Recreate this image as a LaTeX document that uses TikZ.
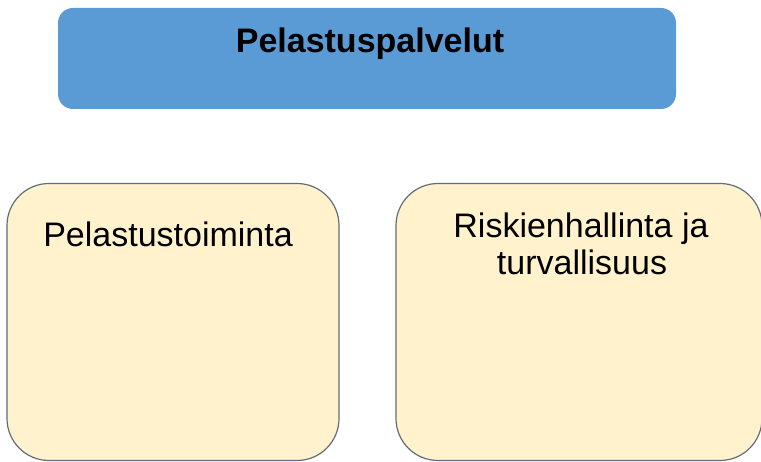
\documentclass[tikz,border=0pt]{standalone}
\usepackage{fontspec}
\setmainfont{Liberation Sans}
\definecolor{topblue}{HTML}{5B9BD5}
\definecolor{beige}{HTML}{FFF2CC}
\definecolor{edgegray}{HTML}{5E6E7C}
\begin{document}
\begin{tikzpicture}[x=1pt,y=-1pt,
  titlebox/.style={fill=topblue,draw=none,rounded corners=15pt,inner sep=0pt},
  subbox/.style={fill=beige,draw=edgegray,line width=1.2pt,rounded corners=42pt,inner sep=0pt},
  lbl/.style={anchor=base,inner sep=0pt,font=\fontsize{34}{38}\selectfont}]
\useasboundingbox (0,0) rectangle (761,462);
\fill[white] (0,0) rectangle (761,462);
\node[titlebox,minimum width=618pt,minimum height=101pt] (top) at (367,58.5) {};
\node[subbox,minimum width=332pt,minimum height=277pt] (left) at (173,322) {};
\node[subbox,minimum width=366pt,minimum height=277pt] (right) at (579,322) {};
\node[lbl,font=\fontsize{34}{38}\selectfont\bfseries] (toptext) at (370,53) {Pelastuspalvelut};
\node[lbl] (lefttext) at (168,247) {Pelastustoiminta};
\node[lbl] (righttext1) at (581,238) {Riskienhallinta ja};
\node[lbl] (righttext2) at (582,275) {turvallisuus};
\end{tikzpicture}
\end{document}
